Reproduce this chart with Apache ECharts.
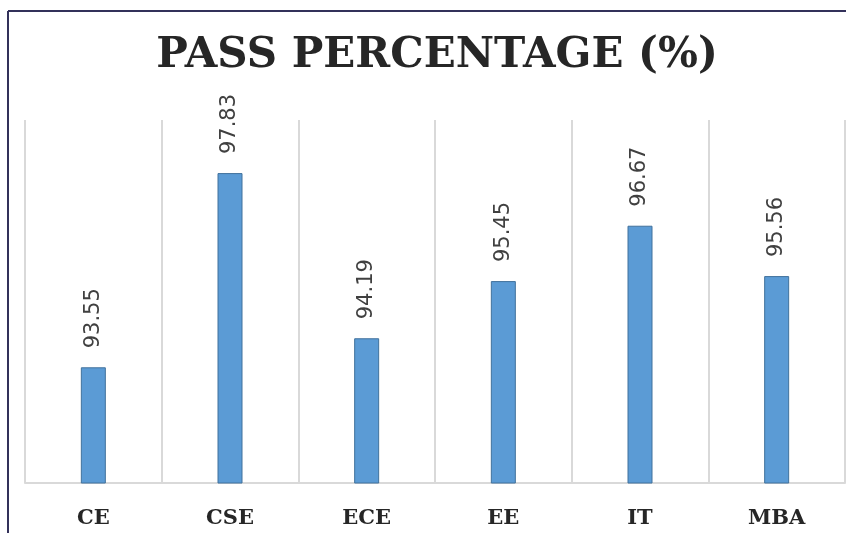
<!DOCTYPE html>
<html>
<head>
<meta charset="utf-8">
<script src="https://cdn.jsdelivr.net/npm/echarts@6/dist/echarts.min.js"></script>
<style>
html,body{margin:0;padding:0;background:#fff;}
#c{width:846px;height:533px;}
</style>
</head>
<body>
<div id="c"></div>
<script>
const titleText = 'PASS PERCENTAGE (%)';
const categories = ['CE', 'CSE', 'ECE', 'EE', 'IT', 'MBA'];
const passValues = [93.55, 97.83, 94.19, 95.45, 96.67, 95.56];
const yMin = 91;
const yMax = 99;

const chart = echarts.init(document.getElementById('c'));
chart.setOption({
  animation: false,
  backgroundColor: '#ffffff',
  title: {
    text: titleText,
    left: 432,
    top: 30,
    textAlign: 'center',
    textStyle: {
      fontFamily: 'DejaVu Serif',
      fontWeight: 'bold',
      fontSize: 42,
      color: '#262626'
    }
  },
  graphic: [
    { type: 'line', shape: { x1: 8, y1: 11, x2: 846, y2: 11 }, style: { stroke: '#33315a', lineWidth: 2 } },
    { type: 'line', shape: { x1: 8, y1: 11, x2: 8, y2: 533 }, style: { stroke: '#33315a', lineWidth: 2 } }
  ],
  grid: { left: 25, right: 1, top: 120, bottom: 50 },
  xAxis: {
    type: 'category',
    data: categories,
    axisLine: { show: true, lineStyle: { color: '#d9d9d9', width: 2 } },
    axisTick: { show: false },
    splitLine: { show: true, interval: 0, lineStyle: { color: '#d9d9d9', width: 2 } },
    axisLabel: {
      margin: 25,
      fontFamily: 'DejaVu Serif',
      fontWeight: 'bold',
      fontSize: 21,
      color: '#262626'
    }
  },
  yAxis: {
    type: 'value',
    min: yMin,
    max: yMax,
    show: false,
    splitLine: { show: false }
  },
  series: [{
    type: 'bar',
    data: passValues,
    barWidth: 25,
    itemStyle: { color: '#5b9bd5', borderColor: '#41719c', borderWidth: 1 },
    label: {
      show: true,
      position: 'top',
      rotate: 90,
      align: 'left',
      verticalAlign: 'middle',
      distance: 19,
      fontFamily: 'DejaVu Sans',
      fontSize: 21,
      color: '#404040',
      formatter: p => p.value.toFixed(2)
    }
  }]
});
</script>
</body>
</html>
